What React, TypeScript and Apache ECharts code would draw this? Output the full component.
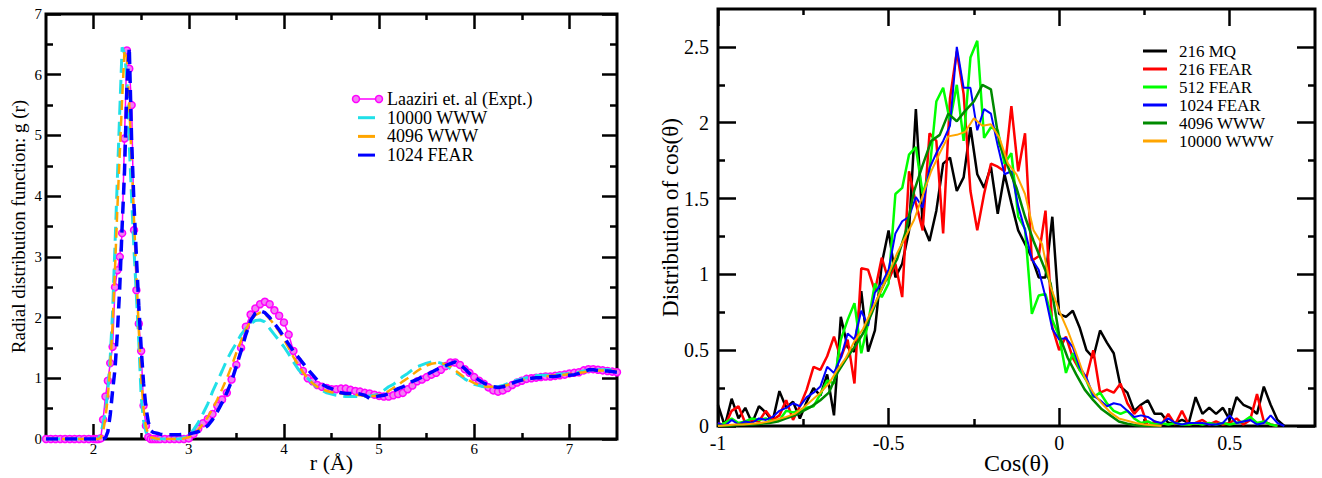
import React, { useEffect, useRef } from "react";
import * as echarts from "echarts";

const FONT = '"Liberation Serif", "Times New Roman", Times, serif';

function range(start: number, stop: number, step: number): number[] {
  const out: number[] = [];
  const n = Math.round((stop - start) / step);
  for (let i = 0; i <= n; i++) out.push(Math.round((start + i * step) * 1000) / 1000);
  return out;
}

// ---------------- Left panel: g(r) ----------------
const rValues = [...range(1.5, 1.95, 0.05), ...range(2.0, 2.7, 0.025), ...range(2.75, 7.5, 0.05)];

const gExpt = [
  0, 0, 0, 0, 0, 0, 0, 0, 0, 0,
  0, 0, 0, 0.01, 0.32, 0.7, 0.96, 1.25, 1.52, 2.5, 2.78, 3.0, 3.39, 4.95, 6.4, 6.1, 5.5, 3.44, 2.45, 1.9, 1.45, 0.55, 0.22, 0.03, 0, 0, 0, 0, 0,
  0, 0, 0, 0, 0, 0.01, 0.08, 0.17, 0.26, 0.33,
  0.41, 0.55, 0.65, 0.76, 0.98, 1.22, 1.5, 1.85, 2.05, 2.15,
  2.22, 2.26, 2.22, 2.12, 2.03, 1.92, 1.72, 1.45, 1.28, 1.12,
  1.0, 0.95, 0.89, 0.86, 0.84, 0.82, 0.82, 0.83, 0.83, 0.81,
  0.79, 0.78, 0.76, 0.75, 0.73, 0.71, 0.7, 0.7, 0.72, 0.74,
  0.76, 0.82, 0.88, 0.95, 0.98, 1.02, 1.06, 1.09, 1.14, 1.2,
  1.26, 1.26, 1.22, 1.15, 1.09, 1.02, 0.96, 0.91, 0.85, 0.8,
  0.78, 0.8, 0.84, 0.89, 0.93, 0.96, 0.99, 1.0, 1.01, 1.02,
  1.03, 1.03, 1.04, 1.05, 1.06, 1.08, 1.09, 1.1, 1.13, 1.15,
  1.15, 1.14, 1.13, 1.12, 1.11, 1.1,
];

const g10000 = [
  0, 0, 0, 0, 0, 0, 0, 0, 0, 0,
  0, 0, 0, 0.08, 0.25, 0.45, 0.8, 1.35, 2.1, 3.2, 4.3, 5.4, 6.45, 6.35, 5.95, 4.85, 3.95, 3.1, 2.35, 1.6, 0.7, 0.3, 0.12, 0.05, 0.02, 0.01, 0, 0, 0,
  0, 0, 0, 0, 0.02, 0.07, 0.15, 0.27, 0.42, 0.58,
  0.78, 0.95, 1.12, 1.3, 1.45, 1.58, 1.72, 1.82, 1.9, 1.95,
  1.96, 1.93, 1.82, 1.72, 1.62, 1.52, 1.4, 1.27, 1.15, 1.06,
  1.0, 0.92, 0.85, 0.8, 0.76, 0.74, 0.72, 0.71, 0.7, 0.7,
  0.7, 0.7, 0.7, 0.71, 0.72, 0.74, 0.8, 0.86, 0.9, 0.96,
  1.03, 1.08, 1.14, 1.19, 1.22, 1.25, 1.27, 1.27, 1.25, 1.21,
  1.16, 1.1, 1.05, 0.99, 0.94, 0.9, 0.88, 0.86, 0.86, 0.86,
  0.86, 0.88, 0.91, 0.95, 0.97, 0.99, 1.01, 1.03, 1.04, 1.05,
  1.05, 1.05, 1.06, 1.07, 1.07, 1.08, 1.09, 1.1, 1.12, 1.13,
  1.14, 1.14, 1.14, 1.14, 1.14, 1.14,
];

const g4096 = [
  0, 0, 0, 0, 0, 0, 0, 0, 0, 0,
  0, 0, 0, 0.02, 0.12, 0.35, 0.7, 1.2, 1.9, 2.8, 3.8, 4.7, 5.6, 6.4, 6.3, 5.5, 4.6, 3.6, 2.7, 1.8, 1.0, 0.5, 0.2, 0.08, 0.03, 0.02, 0.01, 0, 0,
  0, 0, 0, 0, 0.01, 0.03, 0.08, 0.15, 0.25, 0.36,
  0.5, 0.65, 0.82, 1.0, 1.2, 1.42, 1.62, 1.8, 1.95, 2.04,
  2.08, 2.06, 1.98, 1.88, 1.77, 1.64, 1.5, 1.35, 1.22, 1.1,
  1.0, 0.92, 0.86, 0.82, 0.79, 0.77, 0.76, 0.75, 0.74, 0.73,
  0.73, 0.72, 0.71, 0.71, 0.71, 0.72, 0.75, 0.79, 0.84, 0.89,
  0.95, 1.0, 1.06, 1.12, 1.17, 1.21, 1.24, 1.25, 1.25, 1.23,
  1.19, 1.13, 1.07, 1.01, 0.96, 0.92, 0.89, 0.87, 0.86, 0.86,
  0.86, 0.87, 0.89, 0.92, 0.95, 0.97, 0.99, 1.0, 1.01, 1.02,
  1.03, 1.04, 1.05, 1.05, 1.06, 1.07, 1.08, 1.09, 1.1, 1.12,
  1.13, 1.13, 1.13, 1.12, 1.12, 1.12,
];

const g1024 = [
  0, 0, 0, 0, 0, 0, 0, 0, 0, 0,
  0, 0, 0, 0, 0, 0.02, 0.12, 0.4, 0.8, 1.15, 1.75, 2.5, 3.5, 4.4, 5.8, 6.45, 4.9, 3.85, 3.0, 2.2, 1.5, 0.92, 0.52, 0.28, 0.14, 0.11, 0.1, 0.09, 0.08,
  0.07, 0.07, 0.07, 0.07, 0.08, 0.08, 0.1, 0.12, 0.16, 0.22,
  0.32, 0.45, 0.6, 0.76, 0.95, 1.2, 1.45, 1.72, 1.95, 2.07,
  2.11, 2.08, 2.0, 1.9, 1.8, 1.68, 1.56, 1.45, 1.35, 1.25,
  1.15, 1.06, 0.97, 0.9, 0.86, 0.83, 0.79, 0.76, 0.75, 0.75,
  0.75, 0.74, 0.72, 0.67, 0.69, 0.71, 0.72, 0.75, 0.79, 0.83,
  0.86, 0.9, 0.95, 0.98, 1.02, 1.06, 1.1, 1.14, 1.18, 1.21,
  1.24, 1.27, 1.22, 1.16, 1.08, 1.02, 0.97, 0.92, 0.89, 0.86,
  0.85, 0.86, 0.89, 0.92, 0.95, 0.97, 0.99, 1.0, 1.01, 1.01,
  1.02, 1.03, 1.03, 1.04, 1.05, 1.05, 1.06, 1.08, 1.11, 1.14,
  1.14, 1.13, 1.12, 1.12, 1.11, 1.1,
];

const leftXMajor = [2, 3, 4, 5, 6, 7];
const leftXMinor = [2.5, 3.5, 4.5, 5.5, 6.5];
const leftYMajor = [0, 1, 2, 3, 4, 5, 6, 7];
const leftYMinor = [0.5, 1.5, 2.5, 3.5, 4.5, 5.5, 6.5];

// ---------------- Right panel: cos(theta) distribution ----------------
const cosNoisy = range(-1, 0.66, 0.02);
const cosSmooth = range(-1, 0.3, 0.025);

const mq216 = [
  0.14, 0.0, 0.18, 0.05, 0.12, 0.02, 0.13, 0.09, 0.03, 0.23,
  0.12, 0.16, 0.05, 0.16, 0.25, 0.2, 0.34, 0.07, 0.72, 0.52,
  0.49, 0.89, 0.49, 0.63, 1.07, 1.29, 0.98, 1.07, 1.29, 2.09,
  1.33, 1.22, 1.42, 1.73, 1.77, 1.55, 1.64, 1.97, 1.66, 1.57,
  1.71, 1.4, 1.66, 1.47, 1.29, 1.2, 1.11, 0.98, 0.98, 1.38,
  0.74, 0.72, 0.76, 0.65, 0.5, 0.45, 0.63, 0.55, 0.48, 0.26,
  0.22, 0.1, 0.14, 0.17, 0.08, 0.08, 0.02, 0.02, 0.04, 0.02,
  0.19, 0.08, 0.12, 0.08, 0.12, 0.04, 0.19, 0.14, 0.12, 0.08,
  0.26, 0.14, 0.04, 0.0,
];

const fear216 = [
  0.02, 0.0, 0.1, 0.13, 0.02, 0.04, 0.03, 0.1, 0.04, 0.07,
  0.17, 0.04, 0.13, 0.24, 0.39, 0.37, 0.46, 0.59, 0.45, 0.57,
  0.28, 1.04, 1.03, 0.89, 1.11, 0.96, 1.07, 0.85, 1.68, 1.47,
  1.29, 1.93, 1.88, 1.27, 2.16, 2.47, 2.19, 1.55, 1.29, 1.53,
  1.73, 1.71, 1.68, 2.11, 1.68, 1.93, 1.09, 1.12, 1.42, 0.65,
  0.5, 0.59, 0.45, 0.37, 0.32, 0.5, 0.22, 0.24, 0.22, 0.28,
  0.15, 0.08, 0.13, 0.0, 0.03, 0.01, 0.08, 0.01, 0.1, 0.01,
  0.02, 0.04, 0.01, 0.03, 0.01, 0.02, 0.05, 0.01, 0.04, 0.21,
  0.03, 0.01, 0.0,
];

const fear512 = [
  0.0, 0.02, 0.05, 0.02, 0.03, 0.05, 0.04, 0.05, 0.03, 0.04,
  0.1, 0.09, 0.1, 0.12, 0.13, 0.21, 0.3, 0.28, 0.57, 0.7,
  0.81, 0.48, 0.68, 0.94, 0.85, 0.94, 1.53, 1.57, 1.79, 1.84,
  1.53, 1.68, 2.14, 2.23, 2.01, 2.25, 1.88, 2.43, 2.54, 1.9,
  1.97, 1.95, 1.73, 1.8, 1.38, 1.3, 0.74, 0.86, 0.87, 0.7,
  0.59, 0.35, 0.48, 0.37, 0.3, 0.19, 0.22, 0.15, 0.1, 0.08,
  0.1, 0.05, 0.02, 0.03, 0.01, 0.02, 0.01, 0.02, 0.01, 0.01,
  0.02, 0.01, 0.02, 0.01, 0.02, 0.01, 0.02, 0.03, 0.06, 0.02,
  0.03, 0.01, 0.0,
];

const fear1024 = [
  0.02, 0.0, 0.04, 0.01, 0.03, 0.02, 0.05, 0.04, 0.06, 0.1,
  0.12, 0.15, 0.13, 0.19, 0.22, 0.26, 0.39, 0.35, 0.45, 0.61,
  0.57, 0.76, 0.66, 0.88, 0.94, 1.03, 1.27, 1.35, 1.38, 1.51,
  1.44, 1.7, 1.8, 1.88, 1.98, 2.5, 2.23, 2.23, 1.95, 2.09,
  2.06, 1.85, 1.66, 1.68, 1.45, 1.29, 1.1, 1.03, 0.85, 0.64,
  0.57, 0.58, 0.52, 0.39, 0.32, 0.2, 0.17, 0.13, 0.15, 0.14,
  0.1, 0.06, 0.07, 0.06, 0.03, 0.02, 0.05, 0.02, 0.01, 0.02,
  0.02, 0.02, 0.01, 0.01, 0.02, 0.07, 0.02, 0.03, 0.04, 0.01,
  0.02, 0.07, 0.02, 0.0,
];

const www4096 = [
  0, 0, 0.005, 0.01, 0.01, 0.015, 0.02, 0.03, 0.05, 0.07,
  0.1, 0.13, 0.17, 0.22, 0.35, 0.44, 0.52, 0.61, 0.74, 0.88,
  1.0, 1.1, 1.28, 1.55, 1.72, 1.88, 1.92, 2.06, 2.01, 2.08,
  2.14, 2.25, 2.22, 1.86, 1.71, 1.57, 1.38, 1.22, 1.08, 0.94,
  0.6, 0.45, 0.34, 0.24, 0.17, 0.11, 0.07, 0.03, 0.015, 0.005,
  0, 0, 0,
];

const www10000 = [
  0, 0.005, 0.01, 0.01, 0.015, 0.02, 0.03, 0.045, 0.06, 0.08,
  0.12, 0.17, 0.22, 0.28, 0.37, 0.45, 0.56, 0.64, 0.76, 0.88,
  1.0, 1.14, 1.25, 1.36, 1.52, 1.68, 1.8, 1.91, 1.92, 1.94,
  2.03, 1.98, 1.99, 1.9, 1.73, 1.66, 1.53, 1.29, 1.2, 0.92,
  0.76, 0.63, 0.48, 0.32, 0.22, 0.15, 0.09, 0.05, 0.035, 0.02,
  0.01, 0.005, 0,
];

const rightXMajor = [-1, -0.5, 0, 0.5];
const rightXMinor = [-0.75, -0.25, 0.25];
const rightYMajor = [0, 0.5, 1, 1.5, 2, 2.5];
const rightYMinor = [0.25, 0.75, 1.25, 1.75, 2.25];

const pairs = (xs: number[], ys: number[]) => ys.map((y, i) => [xs[i], y]);

const TICK = { color: "#000", width: 2.5 };

function axis(gridIndex: number, position: string, min: number, max: number, ticks: number[], length: number, extra: any = {}) {
  return {
    type: "value",
    gridIndex,
    position,
    min,
    max,
    axisLine: { show: false, onZero: false },
    splitLine: { show: false },
    axisTick: { show: true, inside: true, length, customValues: ticks, lineStyle: TICK },
    axisLabel: { show: false },
    nameMoveOverlap: false,
    ...extra,
  };
}

function labelCfg(ticks: number[], size: number, margin: number) {
  return { show: true, customValues: ticks, fontSize: size, fontFamily: FONT, color: "#000", margin };
}

function nameStyle(size: number) {
  return { fontSize: size, fontFamily: FONT, color: "#000" };
}

const leftLegend = [
  { label: "Laaziri et. al (Expt.)", color: "#ff00ff", marker: true },
  { label: "10000 WWW", color: "#20e0e8", marker: false },
  { label: "4096 WWW", color: "#ffa500", marker: false },
  { label: "1024 FEAR", color: "#0000ff", marker: false },
];
const rightLegend = [
  { label: "216 MQ", color: "#000000" },
  { label: "216 FEAR", color: "#ff0000" },
  { label: "512 FEAR", color: "#00ff00" },
  { label: "1024 FEAR", color: "#0000ff" },
  { label: "4096 WWW", color: "#008a00" },
  { label: "10000 WWW", color: "#ffa500" },
];

function buildGraphic() {
  const els: any[] = [];
  leftLegend.forEach((it, i) => {
    const y = 99 + i * 18.7;
    if (it.marker) {
      els.push({ type: "line", shape: { x1: 356, y1: y, x2: 379, y2: y }, style: { stroke: it.color, lineWidth: 1.5 } });
      els.push({ type: "circle", shape: { cx: 356, cy: y, r: 3.5 }, style: { fill: "#f27ef2", stroke: it.color, lineWidth: 1.5 } });
      els.push({ type: "circle", shape: { cx: 379, cy: y, r: 3.5 }, style: { fill: "#f27ef2", stroke: it.color, lineWidth: 1.5 } });
    } else {
      els.push({ type: "line", shape: { x1: 358, y1: y, x2: 375, y2: y }, style: { stroke: it.color, lineWidth: 3 } });
    }
    els.push({
      type: "text",
      x: 387,
      y,
      style: { text: it.label, fill: "#000", fontSize: 18, fontFamily: FONT, verticalAlign: "middle", align: "left" },
    });
  });
  rightLegend.forEach((it, i) => {
    const y = 51 + i * 18;
    els.push({ type: "line", shape: { x1: 1143, y1: y, x2: 1167, y2: y }, style: { stroke: it.color, lineWidth: 3 } });
    els.push({
      type: "text",
      x: 1179,
      y,
      style: { text: it.label, fill: "#000", fontSize: 17, fontFamily: FONT, verticalAlign: "middle", align: "left" },
    });
  });
  return els;
}

export default function App() {
  const ref = useRef<HTMLDivElement | null>(null);

  useEffect(() => {
    if (!ref.current) return;
    const chart = echarts.init(ref.current, null, { renderer: "svg", width: 1322, height: 478 });
    const option: any = {
      animation: false,
      backgroundColor: "#ffffff",
      grid: [
        { left: 46, top: 14, width: 571, height: 425, show: true, borderColor: "#000", borderWidth: 3, backgroundColor: "transparent", outerBoundsMode: "none", containLabel: false },
        { left: 718, top: 9, width: 597, height: 417, show: true, borderColor: "#000", borderWidth: 3, backgroundColor: "transparent", outerBoundsMode: "none", containLabel: false },
      ],
      xAxis: [
        axis(0, "bottom", 1.5, 7.5, leftXMajor, 15, {
          axisLabel: labelCfg(leftXMajor, 15, 2),
          name: "r (Å)",
          nameLocation: "middle",
          nameGap: 12,
          nameTextStyle: nameStyle(22),
        }),
        axis(0, "bottom", 1.5, 7.5, leftXMinor, 6),
        axis(0, "top", 1.5, 7.5, leftXMajor, 15),
        axis(0, "top", 1.5, 7.5, leftXMinor, 6),
        axis(1, "bottom", -1, 0.75, rightXMajor, 18, {
          axisLabel: labelCfg(rightXMajor, 20, 7),
          name: "Cos(θ)",
          nameLocation: "middle",
          nameGap: 25,
          nameTextStyle: nameStyle(24),
        }),
        axis(1, "bottom", -1, 0.75, rightXMinor, 7),
        axis(1, "top", -1, 0.75, rightXMajor, 17),
        axis(1, "top", -1, 0.75, rightXMinor, 6),
      ],
      yAxis: [
        axis(0, "left", 0, 7, leftYMajor, 15, {
          axisLabel: labelCfg(leftYMajor, 15, 4),
          name: "Radial distribution function: g (r)",
          nameLocation: "middle",
          nameGap: 18,
          nameTextStyle: nameStyle(19),
        }),
        axis(0, "left", 0, 7, leftYMinor, 7),
        axis(0, "right", 0, 7, leftYMajor, 15),
        axis(0, "right", 0, 7, leftYMinor, 7),
        axis(1, "left", 0, 2.75, rightYMajor, 18, {
          axisLabel: labelCfg(rightYMajor, 20, 9),
          name: "Distribution of cos(θ)",
          nameLocation: "middle",
          nameGap: 36,
          nameTextStyle: nameStyle(23),
        }),
        axis(1, "left", 0, 2.75, rightYMinor, 7),
        axis(1, "right", 0, 2.75, rightYMajor, 18),
        axis(1, "right", 0, 2.75, rightYMinor, 7),
      ],
      series: [
        {
          name: "Laaziri et. al (Expt.)",
          type: "line",
          xAxisIndex: 0,
          yAxisIndex: 0,
          data: pairs(rValues, gExpt),
          symbol: "circle",
          symbolSize: 7,
          showSymbol: true,
          lineStyle: { color: "#ff00ff", width: 1.5 },
          itemStyle: { color: "#f27ef2", borderColor: "#ff00ff", borderWidth: 1.5 },
          z: 2,
        },
        {
          name: "10000 WWW",
          type: "line",
          xAxisIndex: 0,
          yAxisIndex: 0,
          data: pairs(rValues, g10000),
          symbol: "none",
          lineStyle: { color: "#20e0e8", width: 3, type: [14, 7] },
          z: 3,
        },
        {
          name: "4096 WWW",
          type: "line",
          xAxisIndex: 0,
          yAxisIndex: 0,
          data: pairs(rValues, g4096),
          symbol: "none",
          lineStyle: { color: "#ffa500", width: 2.5, type: [10, 6] },
          z: 4,
        },
        {
          name: "1024 FEAR",
          type: "line",
          xAxisIndex: 0,
          yAxisIndex: 0,
          data: pairs(rValues, g1024),
          symbol: "none",
          lineStyle: { color: "#0000ff", width: 3.5, type: [12, 7] },
          z: 5,
        },
        {
          name: "216 MQ",
          type: "line",
          xAxisIndex: 4,
          yAxisIndex: 4,
          data: pairs(cosNoisy, mq216),
          symbol: "none",
          lineStyle: { color: "#000000", width: 2.5 },
        },
        {
          name: "216 FEAR",
          type: "line",
          xAxisIndex: 4,
          yAxisIndex: 4,
          data: pairs(cosNoisy, fear216),
          symbol: "none",
          lineStyle: { color: "#ff0000", width: 2.5 },
        },
        {
          name: "512 FEAR",
          type: "line",
          xAxisIndex: 4,
          yAxisIndex: 4,
          data: pairs(cosNoisy, fear512),
          symbol: "none",
          lineStyle: { color: "#00ff00", width: 2.5 },
        },
        {
          name: "1024 FEAR ",
          type: "line",
          xAxisIndex: 4,
          yAxisIndex: 4,
          data: pairs(cosNoisy, fear1024),
          symbol: "none",
          lineStyle: { color: "#0000ff", width: 2 },
        },
        {
          name: "4096 WWW ",
          type: "line",
          xAxisIndex: 4,
          yAxisIndex: 4,
          data: pairs(cosSmooth, www4096),
          symbol: "none",
          lineStyle: { color: "#008a00", width: 2.5 },
        },
        {
          name: "10000 WWW ",
          type: "line",
          xAxisIndex: 4,
          yAxisIndex: 4,
          data: pairs(cosSmooth, www10000),
          symbol: "none",
          lineStyle: { color: "#ffa500", width: 2 },
        },
      ],
      graphic: buildGraphic(),
    };
    chart.setOption(option);
    return () => chart.dispose();
  }, []);

  return <div ref={ref} style={{ position: "absolute", left: 0, top: 0, width: 1322, height: 478 }} />;
}
